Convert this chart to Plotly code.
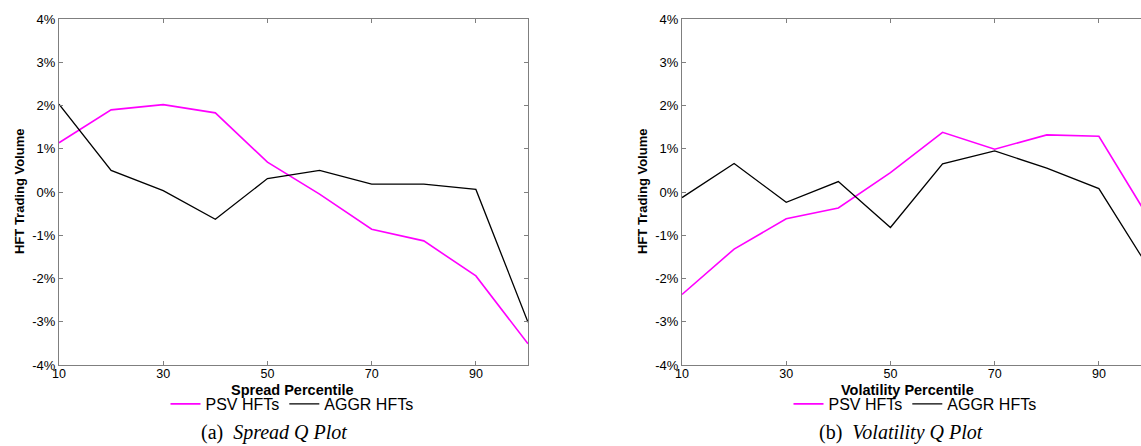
import plotly.graph_objects as go

# ---- data (percent) ----
percentiles = [10, 20, 30, 40, 50, 60, 70, 80, 90, 100]
spread_psv = [1.14, 1.90, 2.02, 1.83, 0.69, -0.05, -0.86, -1.13, -1.94, -3.51]
spread_aggr = [2.03, 0.50, 0.03, -0.63, 0.31, 0.50, 0.18, 0.18, 0.06, -3.01]
vol_psv = [-2.37, -1.32, -0.62, -0.37, 0.45, 1.38, 0.99, 1.32, 1.29, -0.69]
vol_aggr = [-0.13, 0.66, -0.24, 0.24, -0.82, 0.65, 0.95, 0.55, 0.08, -1.84]
x_ticks = [10, 30, 50, 70, 90]
y_ticks = [-4, -3, -2, -1, 0, 1, 2, 3, 4]
y_tick_text = [f"{v}%" for v in y_ticks]

W, H = 1141, 446
MAG = "#ff00ff"
AXC = "#7f7f7f"
FONT = "Liberation Sans, Arial, sans-serif"

fig = go.Figure()
fig.add_trace(go.Scatter(x=percentiles, y=spread_psv, mode="lines", name="PSV HFTs",
                         line=dict(color=MAG, width=1.6), xaxis="x", yaxis="y", legend="legend"))
fig.add_trace(go.Scatter(x=percentiles, y=spread_aggr, mode="lines", name="AGGR HFTs",
                         line=dict(color="black", width=1.3), xaxis="x", yaxis="y", legend="legend"))
fig.add_trace(go.Scatter(x=percentiles, y=vol_psv, mode="lines", name="PSV HFTs",
                         line=dict(color=MAG, width=1.6), xaxis="x2", yaxis="y2", legend="legend2"))
fig.add_trace(go.Scatter(x=percentiles, y=vol_aggr, mode="lines", name="AGGR HFTs",
                         line=dict(color="black", width=1.3), xaxis="x2", yaxis="y2", legend="legend2"))

ydom = [1 - 365 / H, 1 - 19 / H]
x1dom = [59 / W, 528 / W]
x2dom = [682 / W, 1.0]
px_per_unit = (528 - 59) / 90.0
x2max = 10 + (W - 682) / px_per_unit

common_x = dict(showgrid=False, zeroline=False, showline=True, linecolor=AXC, linewidth=1,
                ticks="inside", ticklen=4, tickcolor=AXC, tickvals=x_ticks, automargin=False,
                ticklabelstandoff=-3,
                tickfont=dict(family=FONT, size=12.5, color="black"))
common_y = dict(showgrid=False, zeroline=False, showline=True, linecolor=AXC, linewidth=1,
                ticks="inside", ticklen=4, tickcolor=AXC, tickvals=y_ticks, ticktext=y_tick_text,
                automargin=False, range=[-4, 4], tickfont=dict(family=FONT, size=13, color="black"))

LEG = dict(orientation="h", y=1 - 404 / H, yanchor="middle", xanchor="center",
           font=dict(family=FONT, size=16, color="black"), bgcolor="rgba(0,0,0,0)",
           itemwidth=30, tracegroupgap=0)

fig.update_layout(
    width=W, height=H, margin=dict(l=0, r=0, t=0, b=0, pad=0, autoexpand=False),
    paper_bgcolor="white", plot_bgcolor="white",
    xaxis=dict(common_x, domain=x1dom, range=[10, 100], mirror="ticks", anchor="y"),
    yaxis=dict(common_y, domain=ydom, mirror="ticks", anchor="x"),
    xaxis2=dict(common_x, domain=x2dom, range=[10, x2max], mirror="ticks", anchor="y2"),
    yaxis2=dict(common_y, domain=ydom, mirror=False, anchor="x2"),
    legend=dict(LEG, x=292 / W),
    legend2=dict(LEG, x=915 / W),
    showlegend=True,
)

ann = []
for xc in [19, 642]:
    ann.append(dict(text="<b>HFT Trading Volume</b>", x=xc / W, y=1 - 192 / H, xref="paper", yref="paper",
                    textangle=-90, showarrow=False, font=dict(family=FONT, size=13, color="black"),
                    xanchor="center", yanchor="middle"))
ann.append(dict(text="<b>Spread Percentile</b>", x=292 / W, y=1 - 390 / H, xref="paper", yref="paper",
                showarrow=False, font=dict(family=FONT, size=14.5, color="black"),
                xanchor="center", yanchor="middle"))
ann.append(dict(text="<b>Volatility Percentile</b>", x=907 / W, y=1 - 390 / H, xref="paper", yref="paper",
                showarrow=False, font=dict(family=FONT, size=14.5, color="black"),
                xanchor="center", yanchor="middle"))
SERIF = "Liberation Serif, DejaVu Serif, serif"
ann.append(dict(text="(a)  <i>Spread Q Plot</i>", x=274 / W, y=1 - 432 / H, xref="paper", yref="paper",
                showarrow=False, font=dict(family=SERIF, size=20, color="black"),
                xanchor="center", yanchor="middle"))
ann.append(dict(text="(b)  <i>Volatility Q Plot</i>", x=901 / W, y=1 - 432 / H, xref="paper", yref="paper",
                showarrow=False, font=dict(family=SERIF, size=20, color="black"),
                xanchor="center", yanchor="middle"))
fig.update_layout(annotations=ann)

fig.write_html("out.html", config={"displayModeBar": False},
               post_script="document.body.style.margin='0';document.body.style.overflow='hidden';")
